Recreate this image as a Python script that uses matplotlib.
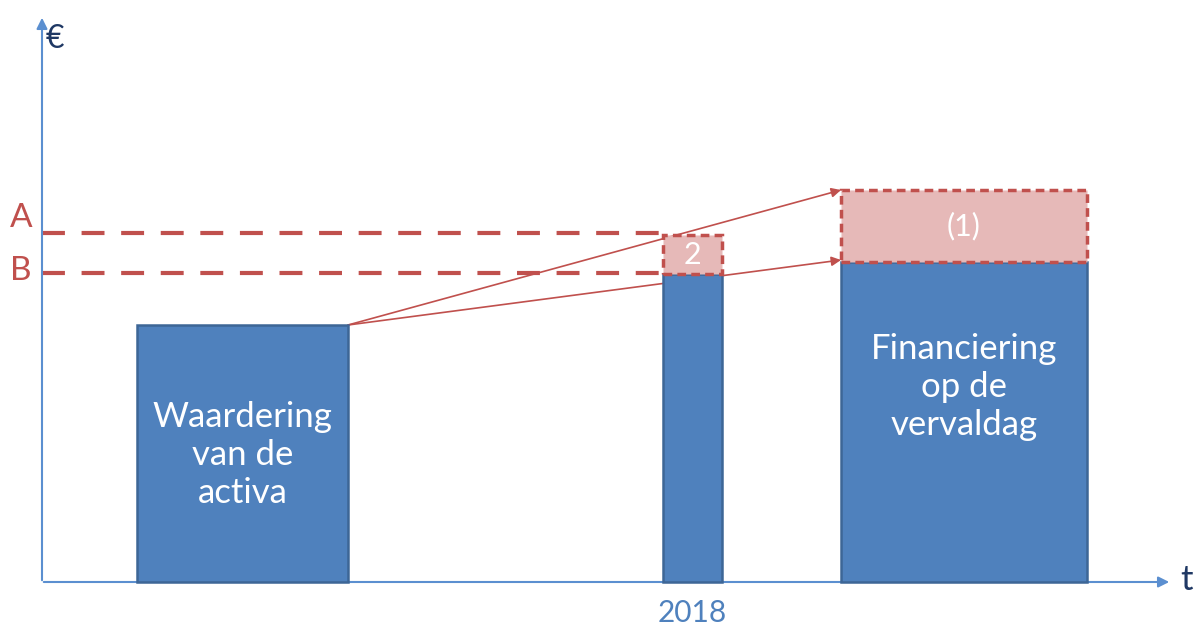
import matplotlib
matplotlib.use("Agg")
import matplotlib.pyplot as plt
from matplotlib.patches import Rectangle

plt.rcParams['font.family'] = ['Lato', 'DejaVu Sans']

# bars: left edge, width, blue height, pink top (None = no pink part)
bar_left = [137, 663, 841]
bar_width = [211, 59, 246]
blue_height = [257, 308, 320]
pink_top = [None, 347, 392]
bar_labels = ["Waardering\nvan de\nactiva", "", "Financiering\nop de\nvervaldag"]
pink_labels = [None, "2", "(1)"]

level_A = 349
level_B = 309
year_label = "2018"

blue = '#4f81bd'
blue_edge = '#3d6696'
red = '#c0504d'
pink = '#e6b9b8'
navy = '#1f3864'

fig = plt.figure(figsize=(12.03, 6.28), dpi=100)
ax = fig.add_axes([0, 0, 1, 1])
ax.set_xlim(0, 1203)
ax.set_ylim(-46, 582)
ax.axis('off')

# axes with arrows
ax.annotate('', xy=(42, 567), xytext=(42, -1),
            arrowprops=dict(arrowstyle='-|>', color='#5b8fd0', lw=1.5, mutation_scale=16))
ax.annotate('', xy=(1172, 0), xytext=(41, 0),
            arrowprops=dict(arrowstyle='-|>', color='#5b8fd0', lw=1.5, mutation_scale=16))
ax.text(46, 543, '€', color=navy, fontsize=23, va='center', ha='left')
ax.text(1180, 2, 't', color=navy, fontsize=25, va='center', ha='left')

# dashed levels
for lvl, name in [(level_A, 'A'), (level_B, 'B')]:
    ax.plot([42, bar_left[1]], [lvl, lvl], color=red, lw=3, dashes=(5.5, 4), zorder=2)
ax.text(21, level_A + 15, 'A', color=red, fontsize=24, ha='center', va='center')
ax.text(21, level_B + 2, 'B', color=red, fontsize=24, ha='center', va='center')

# arrows from first bar to last bar
start = (bar_left[0] + bar_width[0], blue_height[0])
for target in [pink_top[2], blue_height[2] + 2]:
    ax.annotate('', xy=(bar_left[2], target), xytext=start,
                arrowprops=dict(arrowstyle='-|>', color=red, lw=1.2, mutation_scale=14,
                                shrinkA=0, shrinkB=0), zorder=1)

for i in range(len(bar_left)):
    ax.add_patch(Rectangle((bar_left[i], 0), bar_width[i], blue_height[i],
                           facecolor=blue, edgecolor=blue_edge, lw=1.8, zorder=3))
    if pink_top[i] is not None:
        ax.add_patch(Rectangle((bar_left[i], blue_height[i]), bar_width[i],
                               pink_top[i] - blue_height[i],
                               facecolor=pink, edgecolor=red, lw=2.5,
                               linestyle=(0, (2.5, 1.5)), zorder=4))
        ax.text(bar_left[i] + bar_width[i] / 2, (blue_height[i] + pink_top[i]) / 2,
                pink_labels[i], color='white', fontsize=22, ha='center', va='center', zorder=5)
    if bar_labels[i]:
        cy = blue_height[i] - 130 if i == 0 else blue_height[i] - 125
        ax.text(bar_left[i] + bar_width[i] / 2, cy, bar_labels[i], color='white',
                fontsize=25, ha='center', va='center', linespacing=1.22, zorder=5)

ax.text(bar_left[1] + bar_width[1] / 2, -31, year_label, color=blue, fontsize=21.5,
        ha='center', va='center')

fig.savefig('out.png', dpi=100)
